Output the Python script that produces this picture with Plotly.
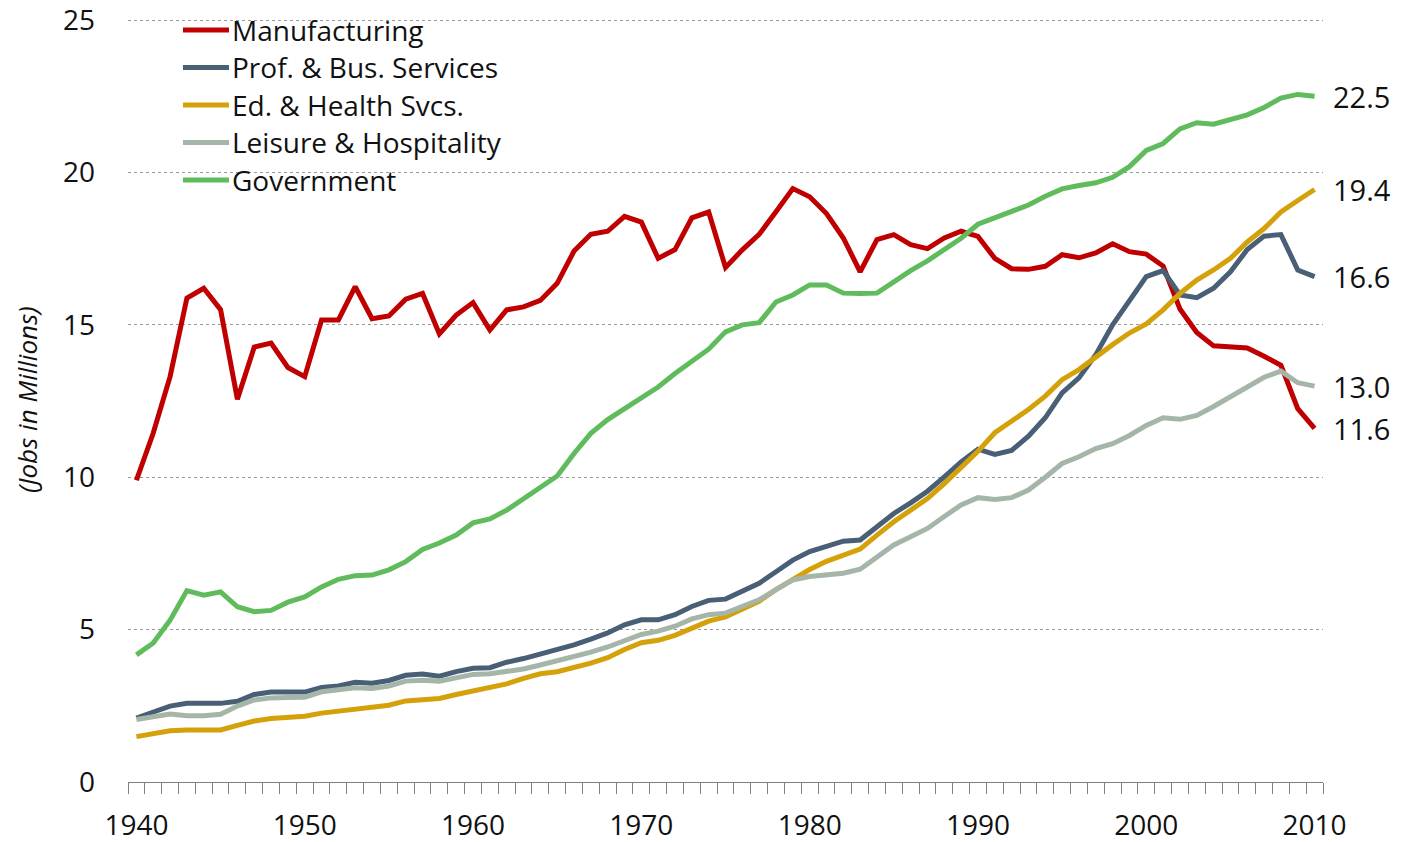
import plotly.graph_objects as go

years = list(range(1940, 2011))

manufacturing = [
    9.9, 11.45, 13.3, 15.88, 16.2, 15.5, 12.56, 14.27, 14.4, 13.6,
    13.3, 15.16, 15.16, 16.25, 15.2, 15.29, 15.84, 16.03, 14.7, 15.32,
    15.73, 14.83, 15.49, 15.59, 15.8, 16.36, 17.42, 17.97, 18.07, 18.56,
    18.37, 17.18, 17.47, 18.51, 18.7, 16.88, 17.46, 17.97, 18.71, 19.47,
    19.2, 18.65, 17.85, 16.74, 17.8, 17.96, 17.63, 17.5, 17.85, 18.07,
    17.9, 17.18, 16.84, 16.82, 16.92, 17.3, 17.2, 17.36, 17.66, 17.4,
    17.32, 16.93, 15.52, 14.75, 14.31, 14.29, 14.24, 13.97, 13.67, 12.25,
    11.6,
]
prof_bus = [
    2.1, 2.3, 2.49, 2.58, 2.6, 2.58, 2.65, 2.87, 2.95, 2.95,
    2.95, 3.1, 3.15, 3.27, 3.24, 3.33, 3.5, 3.54, 3.47, 3.62,
    3.73, 3.75, 3.93, 4.05, 4.2, 4.33, 4.5, 4.69, 4.89, 5.16,
    5.32, 5.32, 5.49, 5.76, 5.96, 6.0, 6.25, 6.52, 6.9, 7.28,
    7.56, 7.75, 7.9, 7.94, 8.37, 8.81, 9.16, 9.54, 10.01, 10.5,
    10.92, 10.75, 10.88, 11.35, 11.95, 12.77, 13.26, 14.02, 15.0, 15.76,
    16.58, 16.78, 15.98, 15.89, 16.2, 16.74, 17.47, 17.91, 17.96, 16.8,
    16.58,
]
ed_health = [
    1.49, 1.59, 1.68, 1.71, 1.71, 1.71, 1.86, 2.0, 2.08, 2.12,
    2.16, 2.26, 2.33, 2.39, 2.44, 2.52, 2.66, 2.72, 2.74, 2.87,
    2.99, 3.1, 3.22, 3.4, 3.55, 3.62, 3.74, 3.9, 4.08, 4.35,
    4.57, 4.65, 4.81, 5.06, 5.28, 5.42, 5.66, 5.93, 6.31, 6.64,
    6.97, 7.24, 7.46, 7.64, 8.1, 8.54, 8.92, 9.3, 9.79, 10.34,
    10.85, 11.46, 11.84, 12.22, 12.66, 13.2, 13.53, 13.96, 14.35, 14.73,
    15.03, 15.49, 16.03, 16.47, 16.8, 17.18, 17.72, 18.16, 18.7, 19.08,
    19.44,
]
leisure = [
    2.05, 2.15, 2.23, 2.17, 2.17, 2.22, 2.49, 2.69, 2.76, 2.77,
    2.78, 2.96, 3.01, 3.09, 3.07, 3.15, 3.31, 3.34, 3.31, 3.44,
    3.53, 3.55, 3.62, 3.71, 3.84, 3.97, 4.11, 4.26, 4.43, 4.65,
    4.84, 4.95, 5.11, 5.35, 5.49, 5.54, 5.76, 5.98, 6.31, 6.63,
    6.74, 6.8, 6.85, 6.98, 7.4, 7.78, 8.05, 8.32, 8.71, 9.09,
    9.33, 9.27, 9.33, 9.58, 10.0, 10.45, 10.67, 10.94, 11.1, 11.37,
    11.7, 11.95, 11.9, 12.03, 12.32, 12.63, 12.96, 13.28, 13.48, 13.1,
    12.99,
]
government = [
    4.17, 4.56, 5.31, 6.28, 6.13, 6.24, 5.75, 5.59, 5.63, 5.9,
    6.07, 6.4, 6.65, 6.77, 6.79, 6.96, 7.23, 7.63, 7.84, 8.1,
    8.5, 8.63, 8.92, 9.28, 9.65, 10.04, 10.78, 11.44, 11.89, 12.25,
    12.63, 12.96, 13.4, 13.8, 14.2, 14.77, 15.0, 15.07, 15.75, 15.98,
    16.31, 16.31, 16.04, 16.03, 16.04, 16.41, 16.78, 17.1, 17.46, 17.84,
    18.3, 18.52, 18.75, 18.93, 19.22, 19.46, 19.57, 19.66, 19.84, 20.19,
    20.72, 20.95, 21.43, 21.63, 21.58, 21.72, 21.89, 22.13, 22.44, 22.56,
    22.5,
]

x_labels = [1940, 1950, 1960, 1970, 1980, 1990, 2000, 2010]
y_ticks = [0, 5, 10, 15, 20, 25]

series = [
    ("Manufacturing", manufacturing, "#C00000"),
    ("Prof. & Bus. Services", prof_bus, "#485F76"),
    ("Ed. & Health Svcs.", ed_health, "#D4A10A"),
    ("Leisure & Hospitality", leisure, "#A5B6A8"),
    ("Government", government, "#5FBB5B"),
]

FONT = "'Open Sans', Lato, sans-serif"
TXT = "#111111"

fig = go.Figure()
for name, vals, color in series:
    fig.add_trace(go.Scatter(
        x=years, y=vals, name=name, mode="lines",
        line=dict(color=color, width=5),
        showlegend=False,
    ))

# end-of-line value labels
for name, vals, color in series:
    fig.add_annotation(
        x=years[-1], y=vals[-1], xref="x", yref="y",
        text=f"{vals[-1]:.1f}", showarrow=False,
        xanchor="left", xshift=16,
        font=dict(size=29, color=TXT, family=FONT),
    )

# legend drawn by hand (top-left, long line swatches)
leg_top, leg_step = 0.983, 0.049
for i, (name, vals, color) in enumerate(series):
    yy = leg_top - i * leg_step
    fig.add_shape(type="line", xref="paper", yref="paper",
                  x0=0.046, x1=0.0845, y0=yy, y1=yy,
                  line=dict(color=color, width=5))
    fig.add_annotation(xref="paper", yref="paper", x=0.0852, y=yy,
                       text=name, showarrow=False, xanchor="left", yanchor="middle",
                       font=dict(size=28, color=TXT, family=FONT))

fig.add_annotation(
    xref="paper", yref="paper", x=-0.085, y=0.5,
    xanchor="center", yanchor="middle",
    text="<i>(Jobs in Millions)</i>", textangle=-90, showarrow=False,
    font=dict(size=26, color=TXT, family=FONT),
)

# page body adds an 8px offset, so the figure is sized to fit inside the window
fig.update_layout(
    width=1402, height=834,
    margin=dict(l=120, r=87, t=9, b=60),
    paper_bgcolor="white", plot_bgcolor="white",
    font=dict(family=FONT, size=28, color=TXT),
    xaxis=dict(
        range=[1939.5, 2010.5], automargin=False,
        tickmode="array", tickvals=x_labels,
        ticks="", showgrid=False, zeroline=False,
        showline=True, linecolor="#808080", linewidth=1.2,
        ticklabelstandoff=18,
        minor=dict(ticks="outside", tickmode="linear", tick0=1939.5, dtick=1,
                   ticklen=11, tickcolor="#808080", tickwidth=1, showgrid=False),
    ),
    yaxis=dict(
        range=[0, 25.1], automargin=False,
        tickmode="array", tickvals=y_ticks,
        showgrid=True, gridcolor="#9a9a9a", griddash="dot", gridwidth=1,
        zeroline=False, showline=False, ticks="",
        ticklabelstandoff=32, ticklabeloverflow="allow",
    ),
)

fig.write_html("out.html")
